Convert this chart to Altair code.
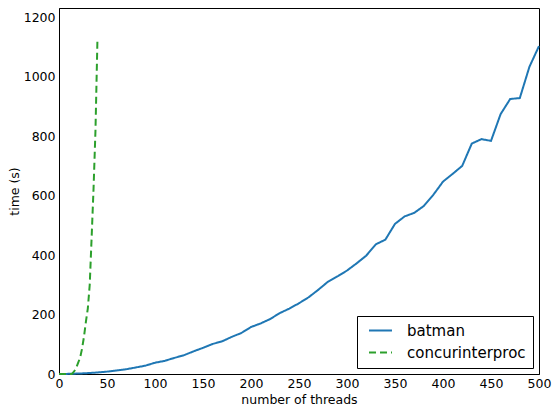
import altair as alt
import pandas as pd

batman_x = [0, 10, 20, 30, 40, 50, 60, 70, 80, 90, 100, 110, 120, 130, 140, 150,
            160, 170, 180, 190, 200, 210, 220, 230, 240, 250, 260, 270, 280, 290,
            300, 310, 320, 330, 340, 350, 360, 370, 380, 390, 400, 410, 420, 430,
            440, 450, 460, 470, 480, 490, 500]
batman_y = [0, 0.5, 1.5, 3, 5, 8, 12, 16, 22, 28, 38, 44, 54, 63, 76, 88,
            101, 110, 125, 138, 158, 170, 185, 205, 220, 238, 258, 283, 310, 328,
            348, 372, 398, 436, 452, 505, 530, 542, 565, 603, 647, 673, 700, 775,
            790, 784, 874, 925, 928, 1033, 1103]

conc_x = [0, 5, 10, 13, 14, 16, 18, 20, 22, 24, 26, 28, 30, 32, 34, 36, 38, 40]
conc_y = [0, 0, 0, 0, 2, 10, 22, 38, 55, 85, 125, 175, 220, 300, 460, 625, 820, 1119]

x_ticks = [0, 50, 100, 150, 200, 250, 300, 350, 400, 450, 500]
y_ticks = [0, 200, 400, 600, 800, 1000, 1200]

series_names = ["batman", "concurinterproc"]
series_colors = ["#1f77b4", "#2ca02c"]

df = pd.concat([
    pd.DataFrame({"threads": batman_x, "time": batman_y, "series": series_names[0], "order": range(len(batman_x))}),
    pd.DataFrame({"threads": conc_x, "time": conc_y, "series": series_names[1], "order": range(len(conc_x))}),
])

FONT = "DejaVu Sans"

legend_opts = dict(title=None, orient="none", legendX=298, legendY=308,
                   symbolType="M-2,0H2", symbolSize=132, symbolStrokeWidth=2,
                   symbolOffset=9, labelFontSize=15, labelOffset=19, padding=7, rowPadding=6,
                   strokeColor="black", fillColor="white", cornerRadius=0)

chart = alt.Chart(df).mark_line(strokeWidth=2).encode(
    x=alt.X("threads:Q", scale=alt.Scale(domain=[0, 500], nice=False, zero=False),
            axis=alt.Axis(title="number of threads", values=x_ticks, format="d",
                          grid=False, ticks=False, labelPadding=3, labelFontSize=12.5,
                          titleFontSize=12.5, titleFontWeight="normal", titleY=25,
                          titleBaseline="middle", labelFlush=False)),
    y=alt.Y("time:Q", scale=alt.Scale(domain=[0, 1231], nice=False),
            axis=alt.Axis(title="time (s)", values=y_ticks, format="d",
                          grid=False, ticks=False, labelPadding=4, labelFontSize=12.5,
                          titleFontSize=12.5, titleFontWeight="normal", titleX=-45, titleY=183,
                          titleBaseline="middle", titleAnchor="middle")),
    color=alt.Color("series:N", scale=alt.Scale(domain=series_names, range=series_colors),
                    legend=alt.Legend(**legend_opts)),
    strokeDash=alt.StrokeDash("series:N", scale=alt.Scale(domain=series_names, range=[[1, 0], [7, 4]]),
                              legend=alt.Legend(**legend_opts)),
    order="order:Q",
).properties(
    width=480, height=366,
    autosize=alt.AutoSizeParams(type="none"),
    padding={"left": 51, "top": 0, "right": 13, "bottom": 33},
).configure_view(
    stroke="black", strokeWidth=1
).configure_axis(
    domainColor="black", labelColor="black", titleColor="black",
    labelFont=FONT, titleFont=FONT
).configure_legend(
    labelFont=FONT, labelColor="black"
)

chart.save("out.html", embed_options={"renderer": "svg", "actions": False})
